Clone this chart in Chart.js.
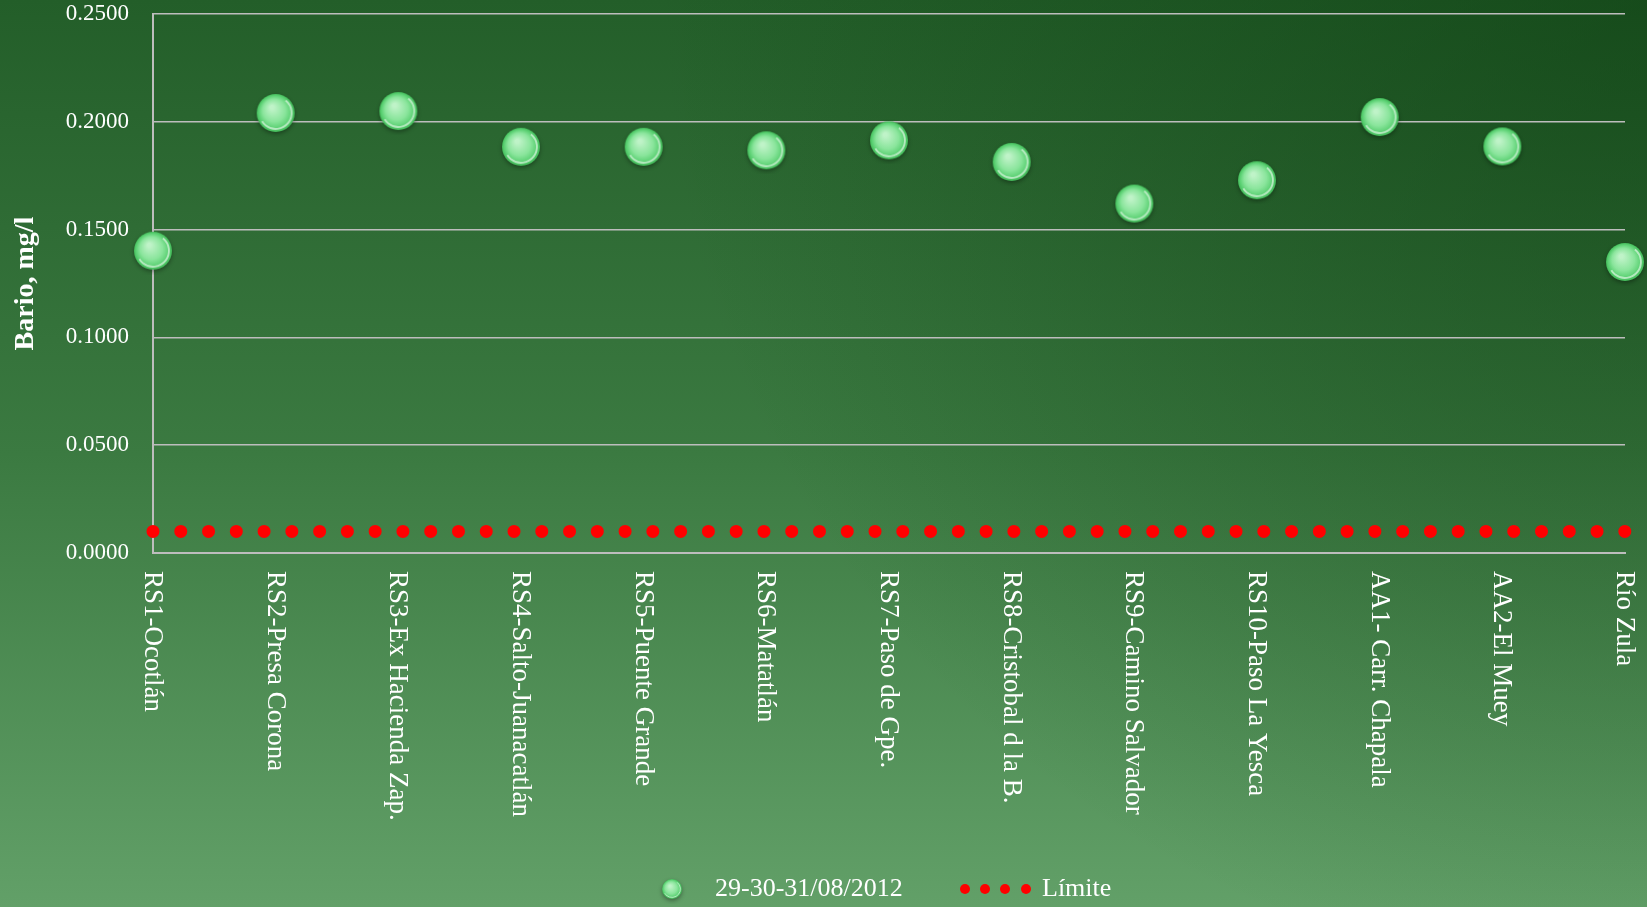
<!DOCTYPE html>
<html>
<head>
<meta charset="utf-8">
<script src="https://cdn.jsdelivr.net/npm/chart.js@4.4.1/dist/chart.umd.min.js"></script>
<style>
  html, body { margin: 0; padding: 0; background: #2f6b35; }
  #wrap { width: 1647px; height: 907px; position: relative; }
</style>
</head>
<body>
<div id="wrap"><canvas id="barioChart"></canvas></div>
<script>
const sites = ['RS1-Ocotlán', 'RS2-Presa Corona', 'RS3-Ex Hacienda Zap.', 'RS4-Salto-Juanacatlán',
  'RS5-Puente Grande', 'RS6-Matatlán', 'RS7-Paso de Gpe.', 'RS8-Cristobal d la B.',
  'RS9-Camino Salvador', 'RS10-Paso La Yesca', 'AA1- Carr. Chapala', 'AA2-El Muey', 'Río Zula'];
const bario = [0.1402, 0.2041, 0.2050, 0.1884, 0.1884, 0.1868, 0.1914, 0.1814,
  0.1621, 0.1729, 0.2022, 0.1886, 0.1350];
const limite = [0.01, 0.01, 0.01, 0.01, 0.01, 0.01, 0.01, 0.01, 0.01, 0.01, 0.01, 0.01, 0.01];
const yTicks = [0, 0.05, 0.10, 0.15, 0.20, 0.25];
const serieLabel = '29-30-31/08/2012';
const limiteLabel = 'Límite';

Chart.defaults.font.family = "'Liberation Serif', serif";

// green glossy sphere used as marker
function makeSphere(r) {
  const pad = 5;
  const size = r * 2 + pad * 2;
  const c = document.createElement('canvas');
  c.width = size; c.height = size;
  const g = c.getContext('2d');
  const cx = size / 2, cy = size / 2;
  g.save();
  g.shadowColor = 'rgba(0,0,0,0.35)';
  g.shadowBlur = 4;
  g.shadowOffsetY = 2;
  const grad = g.createRadialGradient(cx - r * 0.2, cy - r * 0.3, r * 0.1, cx, cy, r);
  grad.addColorStop(0, '#bff3c8');
  grad.addColorStop(0.55, '#8ae59c');
  grad.addColorStop(0.85, '#5ad072');
  grad.addColorStop(1, '#44bb5a');
  g.fillStyle = grad;
  g.beginPath();
  g.arc(cx, cy, r, 0, Math.PI * 2);
  g.fill();
  g.restore();
  g.strokeStyle = 'rgba(255,255,255,0.55)';
  g.lineWidth = Math.max(1, r / 10);
  g.beginPath();
  g.arc(cx, cy, r * 0.84, -0.9, 2.6);
  g.stroke();
  return c;
}
const sphere = makeSphere(19);
const sphereSmall = makeSphere(10);

const bgPlugin = {
  id: 'bg',
  beforeDraw(chart) {
    const { ctx, width, height } = chart;
    const grad = ctx.createLinearGradient(0, 0, 0, height);
    grad.addColorStop(0, '#235e29');
    grad.addColorStop(0.5, '#3b7a41');
    grad.addColorStop(1, '#62a068');
    ctx.save();
    ctx.fillStyle = grad;
    ctx.fillRect(0, 0, width, height);
    const dark = ctx.createRadialGradient(width, 0, 0, width, 0, width * 0.6);
    dark.addColorStop(0, 'rgba(12,60,16,0.55)');
    dark.addColorStop(1, 'rgba(12,60,16,0)');
    ctx.fillStyle = dark;
    ctx.fillRect(0, 0, width, height);
    ctx.restore();
  }
};

// category labels, rotated clockwise, plus the legend
const labelsPlugin = {
  id: 'labels',
  afterDraw(chart) {
    const { ctx } = chart;
    const xs = chart.scales.x;
    ctx.save();
    ctx.fillStyle = '#ffffff';
    ctx.font = "27px 'Liberation Serif'";
    ctx.textAlign = 'left';
    ctx.textBaseline = 'middle';
    chart.data.labels.forEach((lab, i) => {
      const x = xs.getPixelForValue(i);
      ctx.save();
      ctx.translate(x - 1, 571);
      ctx.rotate(Math.PI / 2);
      ctx.fillText(lab, 0, 0);
      ctx.restore();
    });

    // legend
    const ly = 889;
    ctx.drawImage(sphereSmall, 672 - sphereSmall.width / 2, ly - sphereSmall.height / 2);
    ctx.font = "26px 'Liberation Serif'";
    ctx.fillText(chart.data.datasets[0].label, 715, ly);
    ctx.fillStyle = '#ff0000';
    [965, 985, 1005, 1026].forEach(x => {
      ctx.beginPath();
      ctx.arc(x, ly, 5, 0, Math.PI * 2);
      ctx.fill();
    });
    ctx.fillStyle = '#ffffff';
    ctx.fillText(chart.data.datasets[1].label, 1042, ly);
    ctx.restore();
  }
};

new Chart(document.getElementById('barioChart'), {
  type: 'line',
  data: {
    labels: sites,
    datasets: [
      {
        label: serieLabel,
        data: bario,
        showLine: false,
        pointStyle: sphere,
        pointRadius: 19,
        pointHoverRadius: 19,
        clip: false
      },
      {
        label: limiteLabel,
        data: limite,
        borderColor: '#ff0000',
        borderWidth: 13,
        borderCapStyle: 'round',
        borderDash: [0, 27.77],
        pointRadius: 0,
        fill: false,
        clip: false
      }
    ]
  },
  options: {
    responsive: true,
    maintainAspectRatio: false,
    animation: false,
    layout: { autoPadding: false, padding: { top: 14, right: 22, left: 0, bottom: 0 } },
    plugins: {
      legend: { display: false },
      tooltip: { enabled: false }
    },
    scales: {
      x: {
        offset: false,
        grid: { display: false },
        border: { display: true, color: '#bdbdbd', width: 2 },
        ticks: { display: false },
        afterFit(scale) { scale.height = 354; }
      },
      y: {
        min: 0,
        max: 0.25,
        afterBuildTicks(scale) { scale.ticks = yTicks.map(v => ({ value: v })); },
        grid: { color: '#bdbdbd', lineWidth: 1.5, drawTicks: false },
        border: { display: true, color: '#bdbdbd', width: 2 },
        ticks: {
          color: '#ffffff',
          padding: 24,
          font: { size: 23 },
          callback: v => Number(v).toFixed(4)
        },
        title: {
          display: true,
          text: 'Bario, mg/l',
          color: '#ffffff',
          font: { size: 28, weight: 'bold' },
          padding: { top: 9, bottom: 0 }
        },
        afterFit(scale) {
          scale.width = 153;
          scale.paddingTop = 0;
          scale.paddingBottom = 0;
        }
      }
    }
  },
  plugins: [bgPlugin, labelsPlugin]
});
</script>
</body>
</html>
